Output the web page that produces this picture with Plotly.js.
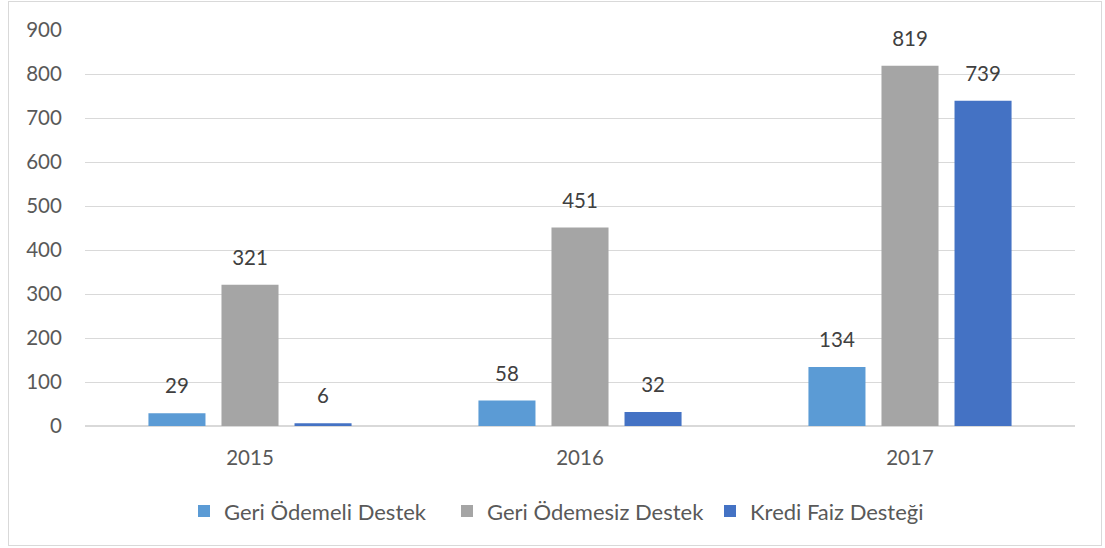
<!DOCTYPE html>
<html><head><meta charset="utf-8">
<script src="https://cdn.plot.ly/plotly-3.0.1.min.js"></script>
<style>
html,body{margin:0;padding:0;background:#fff;}
#wrap{position:relative;width:1105px;height:548px;}
#chart{width:1105px;height:548px;}
#frame{position:absolute;left:8px;top:1px;width:1094px;height:545px;border:1px solid #d9d9d9;pointer-events:none;box-sizing:border-box;}
</style></head>
<body><div id="wrap"><div id="chart"></div><div id="frame"></div></div>
<script>
const years = ["2015", "2016", "2017"];
const seriesNames = ["Geri Ödemeli Destek", "Geri Ödemesiz Destek", "Kredi Faiz Desteği"];
const geriOdemeli = [29, 58, 134];
const geriOdemesiz = [321, 451, 819];
const krediFaiz = [6, 32, 739];
const yTicks = [0, 100, 200, 300, 400, 500, 600, 700, 800, 900];
const colors = ["#5B9BD5", "#A5A5A5", "#4472C4"];
const values = [geriOdemeli, geriOdemesiz, krediFaiz];
const FONT = "Lato, 'Open Sans', sans-serif";
const traces = [];
values.forEach((v, i) => {
  traces.push({type: "bar", name: seriesNames[i], x: years, y: v,
    marker: {color: colors[i]}, offsetgroup: "g" + i, alignmentgroup: "a",
    hoverinfo: "skip"});
});
values.forEach((v, i) => {
  traces.push({type: "scatter", mode: "markers+text", x: years, y: v,
    text: v.map(String), textposition: "top center",
    textfont: {family: FONT, size: 20.5, color: "#404040"},
    marker: {size: 22, opacity: 0}, showlegend: false,
    offsetgroup: "g" + i, alignmentgroup: "a", hoverinfo: "skip", cliponaxis: false});
});
const layout = {
  width: 1105, height: 548,
  margin: {l: 85, r: 30, t: 30, b: 122},
  paper_bgcolor: "#fff", plot_bgcolor: "#fff",
  barmode: "group", scattermode: "group",
  bargap: 0.336, bargroupgap: 0.219, scattergap: 0.336,
  font: {family: FONT, size: 20.5, color: "#595959"},
  xaxis: {type: "category", showgrid: false, zeroline: false, showline: false,
    ticks: "outside", ticklen: 13, tickcolor: "rgba(0,0,0,0)",
    tickfont: {family: FONT, size: 20.5, color: "#595959"}},
  yaxis: {range: [0, 900], tickvals: yTicks, ticktext: yTicks.map(String),
    showgrid: true, gridcolor: "#d9d9d9", gridwidth: 1,
    zeroline: true, zerolinecolor: "#d9d9d9", zerolinewidth: 1.5, showline: false,
    ticks: "outside", ticklen: 18, tickcolor: "rgba(0,0,0,0)",
    tickfont: {family: FONT, size: 20.5, color: "#595959"}},
  showlegend: true,
  legend: {orientation: "h", x: (184 - 85) / 990, xanchor: "left", y: -0.215, yanchor: "middle",
    font: {family: FONT, size: 22, color: "#595959"}, itemwidth: 30, traceorder: "normal",
    entrywidth: 218, entrywidthmode: "pixels"}
};
Plotly.newPlot("chart", traces, layout, {displayModeBar: false, staticPlot: true});
</script></body></html>
